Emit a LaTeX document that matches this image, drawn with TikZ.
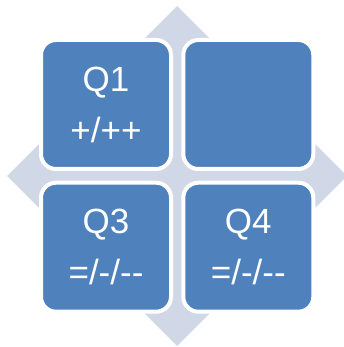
\documentclass[tikz,border=0pt]{standalone}
\usepackage{fontspec}
\setmainfont{Liberation Sans}
\definecolor{quadblue}{HTML}{4F81BD}
\definecolor{crossgray}{HTML}{D0D8E8}

\begin{document}
\begin{tikzpicture}[x=1pt,y=-1pt,
  quadbox/.style={draw=white, line width=4pt, fill=quadblue, rounded corners=15pt,
    minimum width=130pt, minimum height=129pt, inner sep=0pt,
    text=white, align=center, font=\fontsize{35}{51}\selectfont}]
  \useasboundingbox (0,0) rectangle (343,347);

  % Draw the four-way arrow behind the boxes
  \coordinate (c) at (177,176);
  \fill[crossgray, shift={(c)}]
    (0,-170) -- (50,-120) -- (25,-120) -- (25,-25) -- (120,-25) -- (120,-50)
    -- (170,0) -- (120,50) -- (120,25) -- (25,25) -- (25,120) -- (50,120)
    -- (0,170) -- (-50,120) -- (-25,120) -- (-25,25) -- (-120,25) -- (-120,50)
    -- (-170,0) -- (-120,-50) -- (-120,-25) -- (-25,-25) -- (-25,-120) -- (-50,-120)
    -- cycle;

  % Draw the quadrants
  \node[quadbox] (q1) at (106,104.5) {Q1\\+/++};
  \node[quadbox] (q2) at (248.3,104.5) {};
  \node[quadbox] (q3) at (106,247.2) {Q3\\=/-/-{}-};
  \node[quadbox] (q4) at (248.3,247.2) {Q4\\=/-/-{}-};
\end{tikzpicture}
\end{document}
